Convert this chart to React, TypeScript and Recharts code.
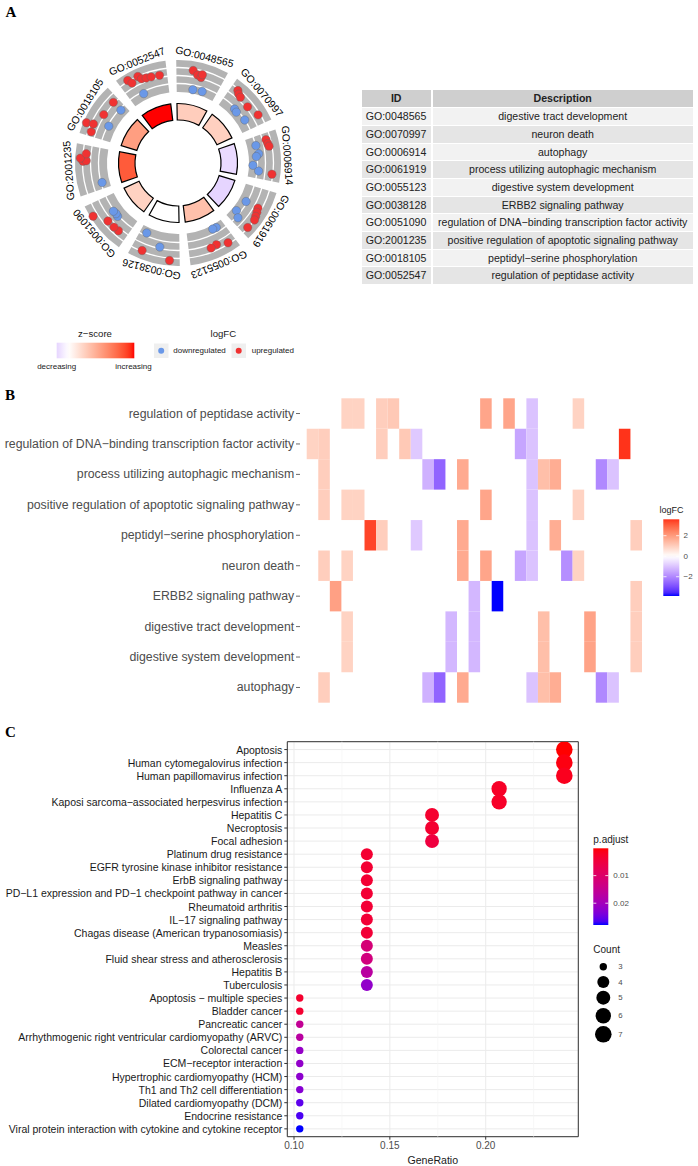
import React from 'react'
import {
  PieChart, Pie, Cell, RadarChart, Radar, PolarGrid, PolarAngleAxis, PolarRadiusAxis,
  BarChart, Bar, XAxis, YAxis, ScatterChart, Scatter, CartesianGrid, ReferenceLine, ReferenceArea,
} from 'recharts'

const FONT = '"Liberation Sans", Arial, sans-serif'
const M = '\u2212'

// ---------- panel A: GO circle + table
const goIds = ['GO:0048565', 'GO:0070997', 'GO:0006914', 'GO:0061919', 'GO:0055123', 'GO:0038128', 'GO:0051090', 'GO:2001235', 'GO:0018105', 'GO:0052547']
const goDescriptions = [
  'digestive tract development', 'neuron death', 'autophagy', 'process utilizing autophagic mechanism',
  'digestive system development', 'ERBB2 signaling pathway', `regulation of DNA${M}binding transcription factor activity`,
  'positive regulation of apoptotic signaling pathway', `peptidyl${M}serine phosphorylation`, 'regulation of peptidase activity',
]
const circleLabels = ['GO:0048565', 'GO:0070997', 'GO:0006914', 'GO:0061919', 'GO:0055123', 'GO:0038126', 'GO:0051090', 'GO:2001235', 'GO:0018105', 'GO:0052547']
const zScores = [0.55, 0.52, -0.33, -0.38, 0.7, 0, 0.5, 1.7, 1.06, 2.12]
// position of each gene inside its term (0..1) and its logFC
const ringPos = [
  [0.37, 0.46, 0.53, 0.54, 0.43, 0.63],
  [0.21, 0.26, 0.32, 0.53, 0.75, 0.4, 0.47, 0.7],
  [0.2, 0.27, 0.32, 0.8, 0.26, 0.43, 0.48, 0.66, 0.77],
  [0.43, 0.5, 0.57, 0.63, 0.8, 0.43, 0.7, 0.79],
  [0.22, 0.41, 0.52, 0.26, 0.34],
  [0.25, 0.73, 0.45, 0.78],
  [0.26, 0.36, 0.51, 0.72, 0.46, 0.52, 0.59],
  [0.64, 0.65, 0.69, 0.77, 0.21],
  [0.16, 0.27, 0.3, 0.53, 0.81, 0.39, 0.8],
  [0.24, 0.28, 0.42, 0.46, 0.54, 0.63, 0.78, 0.38],
]
const ringLogFC = [
  [1.7, 0.8, 0.4, 1.15, -3.05, -2.9],
  [1.75, 1.2, 0.9, 0.6, 1.6, -2.2, -2.4, -1.9],
  [1.0, 1.2, 1.4, 1.9, -1.8, -1.45, -2.1, -3.0, -1.5],
  [1.2, 1.5, 1.8, 2.1, 2.0, -2.2, -2.9, -1.45],
  [1.8, 0.8, 1.05, -3.0, -3.1],
  [2.7, 1.9, -0.25, -2.6],
  [0.8, 0.9, 1.0, 3.3, -1.6, -1.75, -1.6],
  [2.0, 1.2, 2.7, 1.3, -2.15],
  [1.3, 3.25, 1.55, 0.4, 0.4, -2.15, -2.3],
  [2.4, 1.3, 2.1, 1.2, 0.95, 0.8, 0.65, -2.4],
]

// ---------- panel B: heatmap
const heatTerms = [
  'regulation of peptidase activity', `regulation of DNA${M}binding transcription factor activity`,
  'process utilizing autophagic mechanism', 'positive regulation of apoptotic signaling pathway',
  `peptidyl${M}serine phosphorylation`, 'neuron death', 'ERBB2 signaling pathway',
  'digestive tract development', 'digestive system development', 'autophagy',
]
const geneLogFC = [0.9, 1.0, 1.9, 0.9, 0.9, 3.4, 1.0, 1.1, 1.1, -0.9, -1.3, -2.6, -1.2, 1.7, -1.2, 1.8, -3.88, 1.8, -1.5, -1.0, 1.3, 1.65, -1.9, 0.9, 1.85, -2.0, -1.0, 3.6, 1.0]
const heatMembers = [
  [3, 4, 6, 7, 15, 17, 19, 23],
  [0, 1, 6, 8, 9, 18, 19, 27],
  [1, 10, 11, 13, 19, 20, 21, 25, 26],
  [1, 3, 4, 15, 19, 23],
  [5, 6, 9, 13, 19, 21, 28],
  [1, 3, 13, 15, 18, 19, 22, 23],
  [2, 14, 16, 28],
  [3, 12, 14, 20, 24, 28],
  [3, 12, 14, 20, 24, 28],
  [1, 10, 11, 13, 19, 20, 21, 25, 26],
]

// ---------- panel C: KEGG dot plot
const keggTerms = [
  'Apoptosis', 'Human cytomegalovirus infection', 'Human papillomavirus infection', 'Influenza A',
  `Kaposi sarcoma${M}associated herpesvirus infection`, 'Hepatitis C', 'Necroptosis', 'Focal adhesion',
  'Platinum drug resistance', 'EGFR tyrosine kinase inhibitor resistance', 'ErbB signaling pathway',
  `PD${M}L1 expression and PD${M}1 checkpoint pathway in cancer`, 'Rheumatoid arthritis', `IL${M}17 signaling pathway`,
  'Chagas disease (American trypanosomiasis)', 'Measles', 'Fluid shear stress and atherosclerosis', 'Hepatitis B',
  'Tuberculosis', `Apoptosis ${M} multiple species`, 'Bladder cancer', 'Pancreatic cancer',
  'Arrhythmogenic right ventricular cardiomyopathy (ARVC)', 'Colorectal cancer', `ECM${M}receptor interaction`,
  'Hypertrophic cardiomyopathy (HCM)', 'Th1 and Th2 cell differentiation', 'Dilated cardiomyopathy (DCM)',
  'Endocrine resistance', 'Viral protein interaction with cytokine and cytokine receptor',
]
const keggCounts = [7, 7, 7, 6, 6, 5, 5, 5, 4, 4, 4, 4, 4, 4, 4, 4, 4, 4, 4, 3, 3, 3, 3, 3, 3, 3, 3, 3, 3, 3]
const keggRatio = [0.241, 0.241, 0.241, 0.207, 0.207, 0.172, 0.172, 0.172, 0.138, 0.138, 0.138, 0.138, 0.138, 0.138, 0.138, 0.138, 0.138, 0.138, 0.138, 0.103, 0.103, 0.103, 0.103, 0.103, 0.103, 0.103, 0.103, 0.103, 0.103, 0.103]
const keggPAdjust = [0.0001, 0.0009, 0.0018, 0.0026, 0.0028, 0.0034, 0.0035, 0.0051, 0.0037, 0.0038, 0.0038, 0.0039, 0.004, 0.0041, 0.0042, 0.0118, 0.0126, 0.0168, 0.0218, 0.0034, 0.0036, 0.0154, 0.0168, 0.0215, 0.0218, 0.0223, 0.0229, 0.0257, 0.0265, 0.0279]

// ---------- colour helpers (Lab interpolation like ggplot)
const toLab = (hex: string) => {
  const c = [1, 3, 5].map((i) => parseInt(hex.slice(i, i + 2), 16) / 255)
    .map((v) => (v <= 0.04045 ? v / 12.92 : Math.pow((v + 0.055) / 1.055, 2.4)))
  const x = (0.4124 * c[0] + 0.3576 * c[1] + 0.1805 * c[2]) / 0.95047
  const y = 0.2126 * c[0] + 0.7152 * c[1] + 0.0722 * c[2]
  const z = (0.0193 * c[0] + 0.1192 * c[1] + 0.9505 * c[2]) / 1.08883
  const f = (t: number) => (t > 0.008856 ? Math.cbrt(t) : 7.787 * t + 16 / 116)
  return [116 * f(y) - 16, 500 * (f(x) - f(y)), 200 * (f(y) - f(z))]
}
const fromLab = ([L, a, b]: number[]) => {
  const fy = (L + 16) / 116
  const fx = fy + a / 500
  const fz = fy - b / 200
  const inv = (t: number) => (t * t * t > 0.008856 ? t * t * t : (t - 16 / 116) / 7.787)
  const x = inv(fx) * 0.95047
  const y = inv(fy)
  const z = inv(fz) * 1.08883
  const lin = [
    3.2406 * x - 1.5372 * y - 0.4986 * z,
    -0.9689 * x + 1.8758 * y + 0.0415 * z,
    0.0557 * x - 0.204 * y + 1.057 * z,
  ]
  const g = lin.map((v) => {
    const s = Math.min(1, Math.max(0, v))
    const o = s <= 0.0031308 ? 12.92 * s : 1.055 * Math.pow(s, 1 / 2.4) - 0.055
    return Math.round(Math.min(1, Math.max(0, o)) * 255)
  })
  return `rgb(${g[0]},${g[1]},${g[2]})`
}
const mixLab = (h1: string, h2: string, t: number) => {
  const a = toLab(h1)
  const b = toLab(h2)
  return fromLab(a.map((v, i) => v + (b[i] - v) * t))
}
const divColor = (v: number, maxAbs: number) =>
  v >= 0 ? mixLab('#ffffff', '#ff0000', Math.min(1, v / maxAbs)) : mixLab('#ffffff', '#0000ff', Math.min(1, -v / maxAbs))

const zMin = Math.min(...zScores)
const zMax = Math.max(...zScores)
const zAbs = Math.max(Math.abs(zMin), Math.abs(zMax))
const heatLo = Math.min(...geneLogFC)
const heatHi = Math.max(...geneLogFC)
const heatAbs = Math.max(Math.abs(heatLo), Math.abs(heatHi))
const pMin = Math.min(...keggPAdjust)
const pMax = Math.max(...keggPAdjust)
const pColor = (p: number) => mixLab('#ff0000', '#0000ff', (p - pMin) / (pMax - pMin))
const cMin = Math.min(...keggCounts)
const cMax = Math.max(...keggCounts)
const countRadius = (c: number) => 3.7 + 4.6 * Math.sqrt((c - cMin) / (cMax - cMin))

const CX = 178
const CY = 163
const noMargin = { top: 0, right: 0, bottom: 0, left: 0 }

const segData = circleLabels.map((id) => ({ id, value: 1 }))
const ringData = ringPos.flatMap((ps, i) => ps.map((p, j) => ({ angle: 36 * (i + p), fc: ringLogFC[i][j] })))

const renderGoLabel = (p: any) => {
  const rad = Math.PI / 180
  const r = 109.5
  const x = p.cx + r * Math.cos(-p.midAngle * rad)
  const y = p.cy + r * Math.sin(-p.midAngle * rad)
  const rot = 90 - p.midAngle
  return (
    <text key={`lab-${p.index}`} x={x} y={y} transform={`rotate(${rot} ${x} ${y})`} textAnchor="middle"
      dominantBaseline="central" fontSize={10.4} fontFamily={FONT} fill="#000">
      {circleLabels[p.index]}
    </text>
  )
}

const renderRingDot = (p: any) => {
  const v = p.payload?.fc ?? p.payload?.payload?.fc ?? p.value ?? 0
  return (
    <circle key={`dot-${p.index}`} cx={p.cx} cy={p.cy} r={4.2} fill={v > 0 ? '#f03232' : '#6a98e8'}
      stroke="#666" strokeWidth={0.4} />
  )
}

const heatData = geneLogFC.map((_, g) => {
  const row: Record<string, number> = { gene: g }
  heatTerms.forEach((__, r) => { row[`r${r}`] = 1 })
  return row
})
const heatTicks = heatTerms.map((_, r) => heatTerms.length - 0.5 - r)

const HeatTick = (props: any) => {
  const { x, y, payload } = props
  const idx = Math.round(heatTerms.length - 0.5 - payload.value)
  return (
    <g>
      <line x1={x - 10.7} x2={x - 6.7} y1={y} y2={y} stroke="#444" strokeWidth={0.8} />
      <text x={x - 12.5} y={y} textAnchor="end" dominantBaseline="central" fontSize={12.3} fontFamily={FONT} fill="#4d4d4d">
        {heatTerms[idx]}
      </text>
    </g>
  )
}

const KeggTick = (props: any) => {
  const { x, y, payload } = props
  return (
    <text x={x} y={y} textAnchor="end" dominantBaseline="central" fontSize={10.5} fontFamily={FONT} fill="#1a1a1a">
      {keggTerms[payload.value]}
    </text>
  )
}

const keggData = keggTerms.map((term, i) => ({ term, rank: i, ratio: keggRatio[i], count: keggCounts[i], p: keggPAdjust[i] }))

const renderKeggDot = (p: any) => (
  <circle cx={p.cx} cy={p.cy} r={countRadius(p.payload.count)} fill={pColor(p.payload.p)} />
)

const gradStops = (n: number, f: (t: number) => string) =>
  Array.from({ length: n + 1 }, (_, k) => <stop key={k} offset={`${(k / n) * 100}%`} stopColor={f(k / n)} />)

const countLegendY = [966.7, 982, 997.7, 1015.7, 1034.3]
const countLegendVals = [3, 4, 5, 6, 7]

export default function App() {
  const heatY = (v: number) => 519.3 + ((heatHi - v) / (heatHi - heatLo)) * 76.7
  const pY = (v: number) => 848.3 + ((v - pMin) / (pMax - pMin)) * 76.7
  return (
    <div style={{ position: 'absolute', left: 0, top: 0, width: 698, height: 1166, background: '#fff', overflow: 'hidden', fontFamily: FONT }}>
      {/* A: circle */}
      <div style={{ position: 'absolute', left: 0, top: 0 }}>
        <PieChart width={356} height={326} margin={noMargin}>
          <Pie data={segData} dataKey="value" cx={CX} cy={CY} innerRadius={71} outerRadius={103} startAngle={91} endAngle={-269}
            paddingAngle={6} stroke="none" isAnimationActive={false} label={renderGoLabel} labelLine={false}>
            {segData.map((_, i) => <Cell key={i} fill="#b3b3b3" />)}
          </Pie>
          <Pie data={segData} dataKey="value" cx={CX} cy={CY} innerRadius={43} outerRadius={59.5} startAngle={91} endAngle={-269}
            paddingAngle={6} stroke="#000" strokeWidth={1.2} isAnimationActive={false}>
            {zScores.map((z, i) => <Cell key={i} fill={divColor(z, zAbs)} />)}
          </Pie>
        </PieChart>
      </div>
      <div style={{ position: 'absolute', left: 0, top: 0 }}>
        <RadarChart width={356} height={326} cx={CX} cy={CY} innerRadius={71} outerRadius={103} startAngle={94} endAngle={-266}
          data={ringData} margin={noMargin}>
          <PolarGrid gridType="circle" radialLines={false} polarRadius={[79.5, 87.5, 95.5]} stroke="#fff" strokeWidth={1.3} />
          <PolarAngleAxis dataKey="angle" type="number" domain={[0, 360]} tick={false} axisLine={false} tickLine={false} />
          <PolarRadiusAxis type="number" domain={[-4, 4]} tick={false} axisLine={false} />
          <Radar dataKey="fc" stroke="none" fill="none" isAnimationActive={false} dot={renderRingDot} />
        </RadarChart>
      </div>

      {/* A: table */}
      <div style={{ position: 'absolute', left: 361.7, top: 90, width: 331, fontSize: 10.6, color: '#222' }}>
        <div style={{ display: 'flex', height: 17.3 }}>
          <div style={{ width: 69, background: '#cfcfcf', fontWeight: 700, textAlign: 'center', lineHeight: '17.3px' }}>ID</div>
          <div style={{ width: 2 }} />
          <div style={{ width: 260, background: '#cfcfcf', fontWeight: 700, textAlign: 'center', lineHeight: '17.3px' }}>Description</div>
        </div>
        {goIds.map((id, i) => (
          <div key={id} style={{ display: 'flex', height: 16.7, marginTop: 1 }}>
            <div style={{ width: 69, background: i % 2 ? '#e5e5e5' : '#f2f2f2', paddingLeft: 4, boxSizing: 'border-box', lineHeight: '16.7px', whiteSpace: 'nowrap' }}>{id}</div>
            <div style={{ width: 2 }} />
            <div style={{ width: 260, background: i % 2 ? '#e5e5e5' : '#f2f2f2', textAlign: 'center', lineHeight: '16.7px', whiteSpace: 'nowrap' }}>{goDescriptions[i]}</div>
          </div>
        ))}
      </div>

      {/* B: heatmap */}
      <div style={{ position: 'absolute', left: 0, top: 390 }}>
        <BarChart width={698} height={320} data={heatData} margin={{ top: 8.3, right: 56, bottom: 7.3, left: 0 }}
          barCategoryGap={0} barGap={0} barSize={11.56}>
          <XAxis dataKey="gene" hide />
          <YAxis type="number" domain={[0, heatTerms.length]} ticks={heatTicks} interval={0} width={306.7}
            axisLine={false} tickLine={false} tickSize={0} tickMargin={0} tick={<HeatTick />} />
          {heatTerms.map((_, k) => {
            const r = heatTerms.length - 1 - k
            return (
              <Bar key={r} dataKey={`r${r}`} stackId="h" isAnimationActive={false}>
                {geneLogFC.map((fc, g) => (
                  <Cell key={g} fill={heatMembers[r].includes(g) ? divColor(fc, heatAbs) : 'transparent'} />
                ))}
              </Bar>
            )
          })}
        </BarChart>
      </div>

      {/* C: dot plot */}
      <div style={{ position: 'absolute', left: 0, top: 720 }}>
        <ScatterChart width={698} height={446} margin={{ top: 21.7, right: 119.7, bottom: 0, left: 0 }}>
          <CartesianGrid stroke="#ebebeb" strokeWidth={1} />
          {[0.125, 0.175, 0.225].map((v) => (
            <ReferenceLine key={v} x={v} stroke="#f3f3f3" strokeWidth={0.7} />
          ))}
          <XAxis type="number" dataKey="ratio" domain={[0.0965, 0.2483]} ticks={[0.1, 0.15, 0.2]} allowDataOverflow
            tickFormatter={(v: number) => v.toFixed(2)} height={29.3} axisLine={false} tickSize={3} tickMargin={2}
            tick={{ fontSize: 10, fill: '#4d4d4d', fontFamily: FONT }} tickLine={{ stroke: '#333' }}
            label={{ value: 'GeneRatio', position: 'insideBottom', offset: 2, fontSize: 10.6, fill: '#1a1a1a', fontFamily: FONT }} />
          <YAxis type="number" dataKey="rank" domain={[-0.6, keggTerms.length - 0.4]} reversed allowDataOverflow
            ticks={keggTerms.map((_, i) => i)} interval={0} width={287.3}
            axisLine={false} tickSize={3} tickMargin={2} tickLine={{ stroke: '#333' }} tick={<KeggTick />} />
          <ReferenceArea x1={0.0965} x2={0.2483} y1={-0.6} y2={keggTerms.length - 0.4} fill="none" fillOpacity={0}
            stroke="#333" strokeWidth={1} ifOverflow="visible" />
          <Scatter data={keggData} isAnimationActive={false} shape={renderKeggDot} />
        </ScatterChart>
      </div>

      {/* letters and legends */}
      <svg width={698} height={1166} style={{ position: 'absolute', left: 0, top: 0, pointerEvents: 'none' }}>
        <defs>
          <linearGradient id="zgrad" x1="0" y1="0" x2="1" y2="0">
            {gradStops(24, (t) => divColor(zMin + t * (zMax - zMin), zAbs))}
          </linearGradient>
          <linearGradient id="fcgrad" x1="0" y1="0" x2="0" y2="1">
            {gradStops(24, (t) => divColor(heatHi - t * (heatHi - heatLo), heatAbs))}
          </linearGradient>
          <linearGradient id="pgrad" x1="0" y1="0" x2="0" y2="1">
            {gradStops(24, (t) => pColor(pMin + t * (pMax - pMin)))}
          </linearGradient>
        </defs>
        <g fontFamily='"Liberation Serif", "Times New Roman", serif' fontWeight={700} fontSize={15} fill="#000">
          <text x={5.5} y={16.7}>A</text>
          <text x={5} y={400}>B</text>
          <text x={5} y={736.7}>C</text>
        </g>

        {/* A legend */}
        <g fontFamily={FONT} fill="#1a1a1a">
          <text x={95} y={333.3} fontSize={9.6} textAnchor="middle" dominantBaseline="central">{`z${M}score`}</text>
          <rect x={56.7} y={342.7} width={77.6} height={15.6} fill="url(#zgrad)" />
          <text x={56.7} y={366} fontSize={8} textAnchor="middle" dominantBaseline="central">decreasing</text>
          <text x={133.5} y={366} fontSize={8} textAnchor="middle" dominantBaseline="central">increasing</text>
          <text x={223.3} y={333.3} fontSize={9.6} textAnchor="middle" dominantBaseline="central">logFC</text>
          <rect x={154} y={343.5} width={14.5} height={14.5} fill="#efefef" />
          <circle cx={161.2} cy={350.7} r={3} fill="#6a98e8" />
          <text x={173.3} y={350.7} fontSize={8} dominantBaseline="central">downregulated</text>
          <rect x={231.5} y={343.5} width={14.5} height={14.5} fill="#efefef" />
          <circle cx={238.7} cy={350.7} r={3} fill="#f03232" />
          <text x={251.7} y={350.7} fontSize={8} dominantBaseline="central">upregulated</text>
        </g>

        {/* B legend */}
        <g fontFamily={FONT}>
          <text x={671.5} y={510} fontSize={9} textAnchor="middle" dominantBaseline="central" fill="#1a1a1a">logFC</text>
          <rect x={663.3} y={519.3} width={16} height={76.7} fill="url(#fcgrad)" />
          {[2, 0, -2].map((v) => (
            <g key={v}>
              <line x1={663.3} x2={666.5} y1={heatY(v)} y2={heatY(v)} stroke="#fff" strokeWidth={0.8} />
              <line x1={676.1} x2={679.3} y1={heatY(v)} y2={heatY(v)} stroke="#fff" strokeWidth={0.8} />
              <text x={683.5} y={heatY(v)} fontSize={8} dominantBaseline="central" fill="#4d4d4d">{v < 0 ? `${M}${-v}` : v}</text>
            </g>
          ))}
        </g>

        {/* C legends */}
        <g fontFamily={FONT}>
          <text x={593.3} y={839} fontSize={10} dominantBaseline="central" fill="#1a1a1a">p.adjust</text>
          <rect x={593.3} y={848.3} width={15} height={76.7} fill="url(#pgrad)" />
          {[0.01, 0.02].map((v) => (
            <g key={v}>
              <line x1={593.3} x2={596.3} y1={pY(v)} y2={pY(v)} stroke="#fff" strokeWidth={0.8} />
              <line x1={605.3} x2={608.3} y1={pY(v)} y2={pY(v)} stroke="#fff" strokeWidth={0.8} />
              <text x={613.3} y={pY(v)} fontSize={8} dominantBaseline="central" fill="#4d4d4d">{v.toFixed(2)}</text>
            </g>
          ))}
          <text x={593.3} y={949.3} fontSize={10} dominantBaseline="central" fill="#1a1a1a">Count</text>
          {countLegendVals.map((c, i) => (
            <g key={c}>
              <circle cx={603.3} cy={countLegendY[i]} r={countRadius(c)} fill="#000" />
              <text x={618.3} y={countLegendY[i]} fontSize={7.8} dominantBaseline="central" fill="#4d4d4d">{c}</text>
            </g>
          ))}
        </g>
      </svg>
    </div>
  )
}
